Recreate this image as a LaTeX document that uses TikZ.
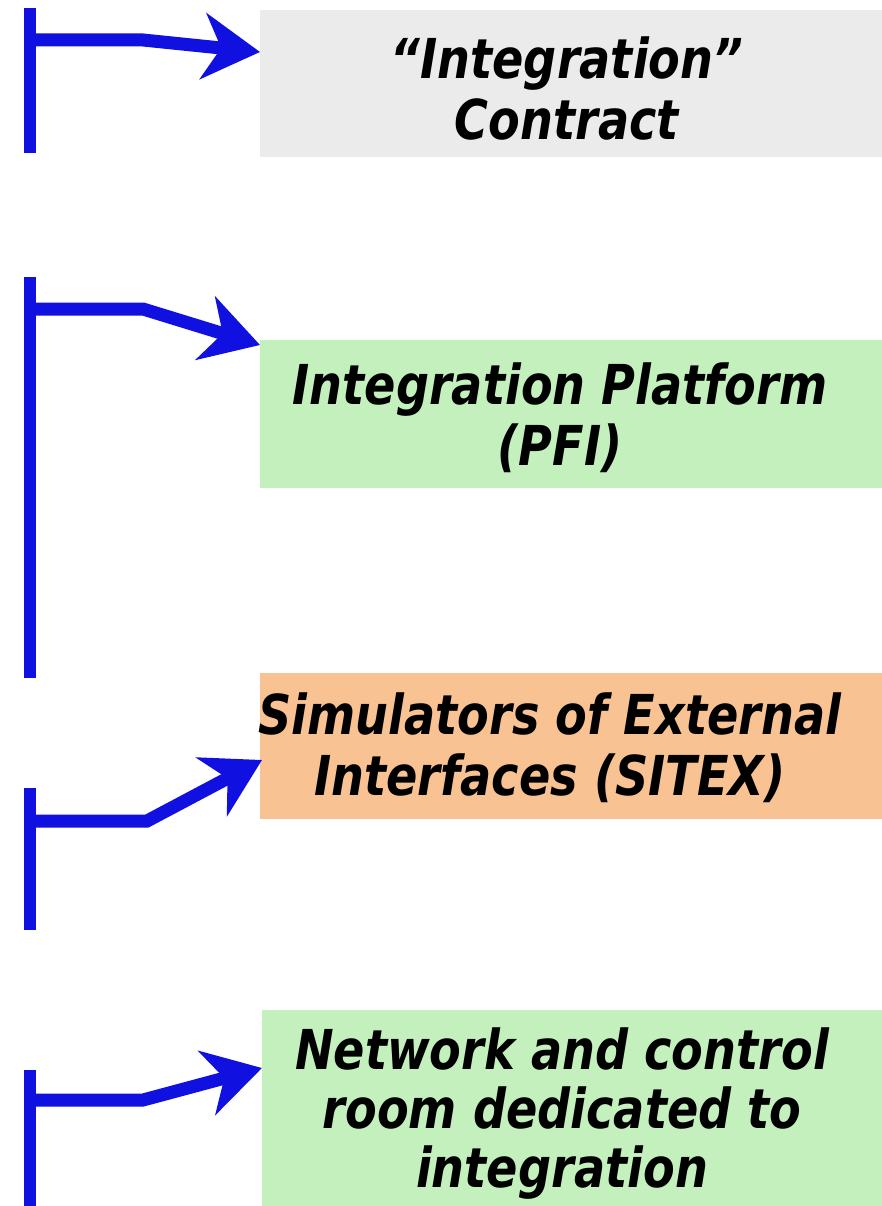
\documentclass[tikz,border=0pt]{standalone}
\usepackage{fontspec}
\setmainfont{DejaVu Sans}[FakeStretch=0.84]
\usetikzlibrary{arrows.meta,calc}
\definecolor{linkblue}{RGB}{16,16,224}
\definecolor{boxgrey}{RGB}{235,235,235}
\definecolor{boxgreen}{RGB}{196,240,190}
\definecolor{boxorange}{RGB}{249,194,146}
\tikzset{
  x=1pt, y=-1pt,
  panel/.style={draw=none, inner sep=0pt, minimum width=622pt, anchor=north west},
  caption/.style={align=center, inner sep=0pt, text=black,
    font=\fontsize{55}{61}\selectfont\bfseries\itshape},
  bar/.style={draw=linkblue, line width=12pt, line cap=butt},
  link/.style={draw=linkblue, line width=13pt, line join=miter, line cap=butt,
    -{Stealth[length=57pt, width=66pt, inset=18pt]}},
}
\begin{document}
\begin{tikzpicture}
\useasboundingbox (0,0) rectangle (882,1206);

% coloured panels
\node[panel, fill=boxgrey,   minimum height=147pt] (box1) at (260,10) {};
\node[panel, fill=boxgreen,  minimum height=148pt] (box2) at (260,340) {};
\node[panel, fill=boxorange, minimum height=146pt] (box3) at (260,673) {};
\node[panel, fill=boxgreen,  minimum height=196pt] (box4) at (262,1010) {};

% panel texts
\node[caption] (t1) at (567,88)   {``Integration''\\Contract};
\node[caption] (t2) at (560,418)  {Integration Platform\\(PFI)};
\node[caption] (t3) at (550,748)  {Simulators of External\\Interfaces (SITEX)};
\node[caption, font=\fontsize{55}{59}\selectfont\bfseries\itshape] (t4) at (562,1114)
  {Network and control\\room dedicated to\\integration};

% vertical bars
\coordinate (b1t) at (30,8);    \coordinate (b1b) at (30,153);
\coordinate (b2t) at (30,277);  \coordinate (b2b) at (30,678);
\coordinate (b3t) at (30,788);  \coordinate (b3b) at (30,930);
\coordinate (b4t) at (30,1070); \coordinate (b4b) at (30,1206);
\draw[bar] (b1t) -- (b1b);
\draw[bar] (b2t) -- (b2b);
\draw[bar] (b3t) -- (b3b);
\draw[bar] (b4t) -- (b4b);

% branch points and arrow targets
\coordinate (j1) at (30,40);   \coordinate (k1) at (143,40);
\coordinate (j2) at (30,309);  \coordinate (k2) at (143,309);
\coordinate (j3) at (30,821);  \coordinate (k3) at (147,821);
\coordinate (j4) at (30,1100); \coordinate (k4) at (143,1100);
\coordinate (e1) at ($(box1.north west)+(0,42)$);
\coordinate (e2) at ($(box2.north west)+(0,5)$);
\coordinate (e3) at ($(box3.north west)+(2,87)$);
\coordinate (e4) at ($(box4.north west)+(0,58)$);

\draw[link] (j1) -- (k1) -- (e1);
\draw[link] (j2) -- (k2) -- (e2);
\draw[link] (j3) -- (k3) -- (e3);
\draw[link] (j4) -- (k4) -- (e4);
\end{tikzpicture}
\end{document}
